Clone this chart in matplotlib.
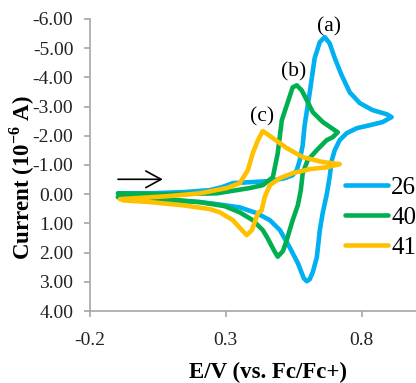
import matplotlib
matplotlib.use("Agg")
import matplotlib.pyplot as plt
from matplotlib.ticker import FormatStrFormatter, FixedLocator

plt.rcParams['font.family'] = ['Liberation Serif', 'DejaVu Serif']
plt.rcParams['axes.unicode_minus'] = False
plt.rcParams['mathtext.fontset'] = 'custom'
plt.rcParams['mathtext.rm'] = 'Liberation Serif'
plt.rcParams['mathtext.bf'] = 'Liberation Serif:bold'

# potentiel (V vs Fc/Fc+) et courant (10^-6 A)
e_26 = [-0.097, 0.021, 0.142, 0.241, 0.285, 0.326, 0.388, 0.462, 0.517, 0.546,
        0.561, 0.572, 0.583, 0.590, 0.609, 0.627, 0.646, 0.664, 0.682, 0.701,
        0.726, 0.756, 0.793, 0.840, 0.892, 0.910,
        0.877, 0.829, 0.782, 0.745, 0.719, 0.701, 0.690, 0.682, 0.671, 0.657,
        0.646, 0.635, 0.620, 0.609, 0.598, 0.587, 0.565, 0.535, 0.499, 0.462,
        0.414, 0.351, 0.267, 0.204, 0.083, -0.042, -0.097]
i_26 = [-0.03, -0.03, -0.07, -0.14, -0.24, -0.38, -0.41, -0.45, -0.55, -0.65,
        -0.82, -1.16, -1.68, -2.36, -3.49, -4.66, -5.21, -5.38, -5.17, -4.66,
        -4.08, -3.49, -3.12, -2.88, -2.74, -2.64,
        -2.47, -2.36, -2.26, -2.09, -1.85, -1.51, -1.16, -0.58, 0.03, 0.62,
        1.23, 2.16, 2.67, 2.91, 2.98, 2.88, 2.36, 1.82, 1.23, 0.89,
        0.65, 0.45, 0.34, 0.27, 0.21, 0.17, 0.10]

e_40 = [-0.097, 0.083, 0.267, 0.388, 0.436, 0.473, 0.491, 0.506, 0.528, 0.546,
        0.561, 0.579, 0.598, 0.620, 0.657, 0.701, 0.712,
        0.693, 0.671, 0.635, 0.601, 0.583, 0.576, 0.565, 0.546, 0.535, 0.524,
        0.510, 0.491, 0.477, 0.454, 0.436, 0.399, 0.351, 0.296, 0.204, 0.083,
        -0.042, -0.097]
i_40 = [-0.03, 0.00, -0.03, -0.21, -0.31, -0.58, -1.40, -2.53, -3.15, -3.66,
        -3.73, -3.56, -3.22, -2.81, -2.47, -2.19, -2.12,
        -1.95, -1.85, -1.51, -1.16, -0.72, -0.14, 0.38, 0.89, 1.23, 1.58,
        1.95, 2.14, 1.92, 1.51, 1.23, 0.89, 0.62, 0.41, 0.27, 0.17,
        0.14, 0.10]

e_41 = [-0.090, 0.083, 0.204, 0.304, 0.351, 0.381, 0.399, 0.418, 0.436, 0.454,
        0.473, 0.524, 0.583, 0.657, 0.719,
        0.671, 0.609, 0.546, 0.499, 0.462, 0.443, 0.432, 0.418, 0.396, 0.377,
        0.359, 0.326, 0.278, 0.241, 0.142, 0.021, -0.079]
i_41 = [0.17, 0.07, -0.03, -0.21, -0.38, -0.82, -1.40, -1.85, -2.16, -2.05,
        -1.92, -1.58, -1.27, -1.10, -1.03,
        -0.92, -0.86, -0.72, -0.55, -0.31, 0.10, 0.55, 0.65, 1.23, 1.40,
        1.23, 0.89, 0.62, 0.51, 0.38, 0.27, 0.21]

series = [('26', e_26, i_26, '#00B0F0'),
          ('40', e_40, i_40, '#00B050'),
          ('41', e_41, i_41, '#FFC000')]

peak_labels = ['(a)', '(b)', '(c)']
peak_pos = [(0.679, -5.72), (0.55, -4.18), (0.432, -2.64)]

x_ticks = [-0.2, 0.3, 0.8]
y_ticks = [-6, -5, -4, -3, -2, -1, 0, 1, 2, 3, 4]

fig = plt.figure(figsize=(4.16, 3.83), dpi=100)
ax = fig.add_axes([90 / 416, 72 / 383, 326 / 416, 292 / 383])

for name, e, i, c in series:
    ax.plot(e, i, color=c, lw=3.3, label=name,
            solid_joinstyle='round', solid_capstyle='round')

for txt, (px, py) in zip(peak_labels, peak_pos):
    ax.text(px, py, txt, fontsize=15.5, ha='center', va='center')

# fleche du sens de balayage
ax.annotate('', xy=(0.068, -0.51), xytext=(-0.097, -0.51),
            arrowprops=dict(arrowstyle='->,head_length=0.55,head_width=0.3',
                            color='black', lw=1.2, mutation_scale=20,
                            shrinkA=0, shrinkB=0))

ax.set_xlim(-0.2, 1.0)
ax.set_ylim(4, -6)
ax.xaxis.set_major_locator(FixedLocator(x_ticks))
ax.yaxis.set_major_locator(FixedLocator(y_ticks))
ax.xaxis.set_major_formatter(FormatStrFormatter('%.1f'))
ax.yaxis.set_major_formatter(FormatStrFormatter('%.2f'))

for s in ['top', 'right']:
    ax.spines[s].set_visible(False)
for s in ['left', 'bottom']:
    ax.spines[s].set_color('#A6A6A6')
    ax.spines[s].set_linewidth(1.2)
ax.tick_params(axis='both', colors='#A6A6A6', length=4, width=1.2,
               labelcolor='#222222')
ax.tick_params(axis='y', labelsize=14, pad=8)
ax.tick_params(axis='x', labelsize=14, pad=11)

fig.text(268 / 416, 1 - 372 / 383, 'E/V (vs. Fc/Fc+)', fontsize=16.5,
         fontweight='bold', ha='center', va='center')
fig.text(22 / 416, 1 - 178 / 383, r'Current (10$^{\mathbf{-6}}$ A)',
         fontsize=16.5, fontweight='bold', ha='center', va='center',
         rotation=90)

ax.legend(loc='center left', bbox_to_anchor=(345 / 416, 1 - 218 / 383),
          bbox_transform=fig.transFigure, frameon=False, fontsize=18,
          handlelength=1.7, handletextpad=0.15, labelspacing=0.3,
          borderpad=0, borderaxespad=0)

fig.savefig('out.png', dpi=100)
